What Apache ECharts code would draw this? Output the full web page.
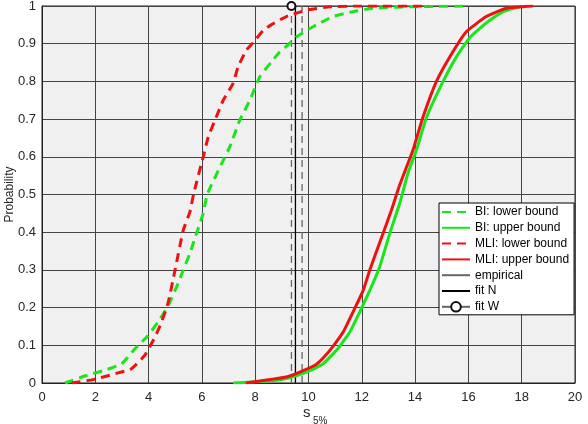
<!DOCTYPE html>
<html>
<head>
<meta charset="utf-8">
<script src="https://cdn.jsdelivr.net/npm/echarts@6/dist/echarts.min.js"></script>
<style>
  html, body { margin: 0; padding: 0; background: #fff; }
  #chart { width: 588px; height: 424px; }
</style>
</head>
<body>
<div id="chart"></div>
<script>
// curves, [s, probability]
var biLower = [[0.86,0],[1.67,0.02],[2.36,0.034],[2.99,0.051],[3.49,0.091],[3.93,0.122],[4.36,0.162],
  [4.74,0.206],[5.05,0.255],[5.3,0.299],[5.55,0.344],[5.8,0.397],[6.05,0.45],[6.2,0.5],[6.74,0.582],
  [7.05,0.627],[7.42,0.697],[7.8,0.75],[8.17,0.812],[8.61,0.852],[8.92,0.878],[9.17,0.893],[9.55,0.918],
  [10.17,0.945],[10.92,0.972],[11.67,0.985],[12.42,0.994],[13.9,0.998],[15.9,1]];
var biUpper = [[7.17,0],[8.0,0.003],[8.6,0.006],[9.17,0.012],[9.93,0.029],[10.55,0.051],[11.05,0.087],
  [11.17,0.097],[11.55,0.135],[11.92,0.188],[12.3,0.246],[12.67,0.308],[13.05,0.397],[13.42,0.476],
  [13.73,0.556],[14.05,0.618],[14.42,0.703],[15.05,0.8],[15.55,0.865],[16.05,0.916],[16.67,0.955],
  [17.3,0.985],[17.92,0.998],[18.0,1]];
var mliLower = [[1.11,0],[1.92,0.009],[2.61,0.022],[3.36,0.038],[3.86,0.074],[4.24,0.122],[4.49,0.162],
  [4.74,0.215],[4.99,0.299],[5.3,0.405],[5.55,0.454],[5.7,0.505],[6.05,0.6],[6.24,0.653],[6.49,0.697],
  [6.8,0.75],[7.17,0.795],[7.36,0.839],[7.67,0.883],[7.95,0.905],[8.3,0.935],[8.6,0.95],[9.17,0.972],
  [9.93,0.989],[10.8,0.998],[12,1],[14.5,1]];
var mliUpper = [[7.65,0],[8.55,0.009],[9.17,0.016],[9.67,0.029],[10.3,0.05],[10.6,0.07],[10.95,0.1],
  [11.3,0.135],[11.75,0.2],[12.05,0.245],[12.3,0.3],[12.8,0.397],[13.11,0.458],[13.42,0.525],
  [13.73,0.582],[13.92,0.618],[14.3,0.706],[14.8,0.8],[15.3,0.865],[15.9,0.93],[16.67,0.972],
  [17.42,0.994],[18.42,1]];

// quantile markers
var empiricalX = 9.76;
var fitNX = 9.51;
var fitWX = 9.36;
var probRange = [0, 1];

var names = ['BI: lower bound', 'BI: upper bound', 'MLI: lower bound', 'MLI: upper bound',
  'empirical', 'fit N', 'fit W'];

var GREEN = '#19e619';
var RED = '#ee1111';
var FONT = 'Liberation Sans, Arial, sans-serif';

function curve(name, data, color, dashed) {
    return {
        name: name,
        type: 'line',
        data: data,
        symbol: 'none',
        smooth: 0.15,
        z: 3,
        lineStyle: { color: color, width: 3, type: dashed ? [9, 6] : 'solid' },
        itemStyle: { color: color }
    };
}

function vline(name, x, color, dashed) {
    return {
        name: name,
        type: 'line',
        data: [[x, probRange[0]], [x, probRange[1]]],
        symbol: 'none',
        z: 2,
        lineStyle: { color: color, width: 1.3, type: dashed ? [7, 5] : 'solid' },
        itemStyle: { color: color }
    };
}

var fitW = vline('fit W', fitWX, '#666', true);
fitW.symbol = 'emptyCircle';
fitW.symbolSize = 8;
fitW.clip = false;
fitW.itemStyle = { color: '#111', borderWidth: 1.2 };
fitW.data = [{ value: [fitWX, probRange[0]], symbol: 'none' }, [fitWX, probRange[1]]];

var chart = echarts.init(document.getElementById('chart'));
chart.setOption({
    animation: false,
    backgroundColor: '#fff',
    grid: {
        left: 42, right: 13, top: 6, bottom: 41,
        containLabel: false, outerBoundsMode: 'none',
        show: true, backgroundColor: '#f0f0f0', borderColor: '#222', borderWidth: 1
    },
    xAxis: {
        type: 'value', min: 0, max: 20, interval: 2,
        axisLine: { lineStyle: { color: '#222' } },
        axisTick: { show: false },
        axisLabel: { color: '#262626', fontSize: 13, fontFamily: FONT, margin: 8 },
        splitLine: { lineStyle: { color: '#444', width: 1 } }
    },
    yAxis: {
        type: 'value', min: 0, max: 1, interval: 0.1,
        name: 'Probability', nameLocation: 'middle', nameGap: 26, nameMoveOverlap: false,
        nameTextStyle: { color: '#262626', fontSize: 12, fontFamily: FONT },
        axisLine: { lineStyle: { color: '#222' } },
        axisTick: { show: false },
        axisLabel: { color: '#262626', fontSize: 13, fontFamily: FONT, margin: 6 },
        splitLine: { lineStyle: { color: '#444', width: 1 } }
    },
    legend: {
        orient: 'vertical',
        left: 439, top: 203,
        padding: [3, 5, 2, 2],
        backgroundColor: '#fff',
        borderColor: '#000', borderWidth: 1, borderRadius: 0,
        itemWidth: 28, itemHeight: 12, itemGap: 3.8,
        itemStyle: { opacity: 0 },
        textStyle: { color: '#000', fontSize: 12, fontFamily: FONT, lineHeight: 12 },
        data: [
            names[0], names[1], names[2], names[3],
            { name: names[4], lineStyle: { type: 'solid' } },
            { name: names[5] },
            { name: names[6], lineStyle: { type: 'solid', color: '#666' },
              itemStyle: { opacity: 1, color: '#111', borderColor: '#111', borderWidth: 1.2 } }
        ]
    },
    graphic: [
        { type: 'text', left: 303, top: 405, style: { text: 's', fontSize: 15, fontFamily: FONT, fill: '#262626' } },
        { type: 'text', left: 313, top: 416, style: { text: '5%', fontSize: 10, fontFamily: FONT, fill: '#262626' } }
    ],
    series: [
        curve(names[0], biLower, GREEN, true),
        curve(names[1], biUpper, GREEN, false),
        curve(names[2], mliLower, RED, true),
        curve(names[3], mliUpper, RED, false),
        vline(names[4], empiricalX, '#666', true),
        vline(names[5], fitNX, '#000', false),
        fitW
    ]
});
</script>
</body>
</html>
